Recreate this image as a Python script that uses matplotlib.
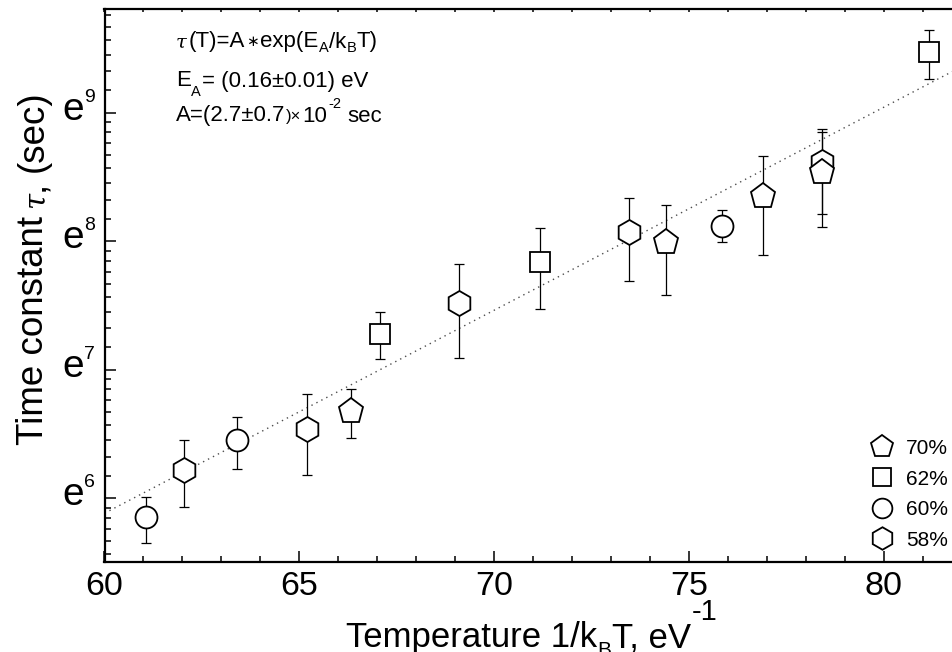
import numpy as np
import matplotlib
matplotlib.use('Agg')
import matplotlib.pyplot as plt
from matplotlib.ticker import FixedLocator, MultipleLocator, NullFormatter
from matplotlib.transforms import IdentityTransform, offset_copy

plt.rcParams['font.family'] = ['Liberation Sans', 'DejaVu Sans']

#data, y values are ln(tau)
#70% - pentagons
x70 = [66.32, 74.40, 76.91, 78.42]
ln70 = [6.68, 7.99, 8.35, 8.54]
lo70 = [6.47, 7.58, 7.89, 8.21]
hi70 = [6.85, 8.28, 8.66, 8.85]
#62% - squares
x62 = [67.08, 71.18, 81.16]
ln62 = [7.28, 7.84, 9.47]
lo62 = [7.08, 7.47, 9.26]
hi62 = [7.45, 8.10, 9.64]
#60% - circles
x60 = [61.06, 63.40, 75.85]
ln60 = [5.85, 6.45, 8.12]
lo60 = [5.65, 6.23, 7.99]
hi60 = [6.01, 6.63, 8.24]
#58% - hexagons
x58 = [62.05, 65.19, 69.10, 73.46, 78.42]
ln58 = [6.22, 6.54, 7.52, 8.07, 8.62]
lo58 = [5.93, 6.18, 7.09, 7.69, 8.11]
hi58 = [6.45, 6.81, 7.82, 8.34, 8.87]

#fit tau = A*exp(E_A*x)
fitEA = 0.158
fitLnA = -3.597

W, H = 952, 652
fig = plt.figure(figsize=(W/100, H/100), dpi=100)
axLeft, axBottom, axTop = 104.5, 561.7, 9.0
pxPerUnit = 38.97
ax = fig.add_axes([axLeft/W, (H-axBottom)/H, 22*pxPerUnit/W, (axBottom-axTop)/H])
ax.set_yscale('log', base=np.e)
ax.set_xlim(60, 82)
ax.set_ylim(np.exp(5.506), np.exp(9.807))

#the fit line
xx = np.array([60, 82])
ax.plot(xx, np.exp(fitLnA + fitEA*xx), color='0.3', lw=1.0, dashes=(1, 3), zorder=1)

groups = [
	(x58, ln58, lo58, hi58, 'h', 18.0, '58%'),
	(x60, ln60, lo60, hi60, 'o', 15.8, '60%'),
	(x62, ln62, lo62, hi62, 's', 13.9, '62%'),
	(x70, ln70, lo70, hi70, 'p', 18.7, '70%'),
]
handles = {}
for i, (gx, gy, glo, ghi, m, ms, lab) in enumerate(groups):
	y = np.exp(np.array(gy))
	ylo = np.exp(np.array(glo))
	yhi = np.exp(np.array(ghi))
	ax.errorbar(gx, y, yerr=[y-ylo, yhi-y], fmt='none', ecolor='k', elinewidth=0.9,
		capsize=3.6, capthick=0.9, zorder=2+i*0.1)
	h, = ax.plot(gx, y, ls='none', marker=m, ms=ms, mfc='white', mec='k', mew=1.3,
		zorder=3+i*0.1, label=lab)
	handles[lab] = h

#axes look
for side in ['left', 'bottom', 'top']:
	ax.spines[side].set_linewidth(1.6)
ax.spines['right'].set_visible(False)

ax.xaxis.set_major_locator(MultipleLocator(5))
ax.xaxis.set_minor_locator(MultipleLocator(1))
ax.tick_params(axis='x', which='major', direction='in', length=8, width=1.1, labelsize=24.5, pad=7, top=True)
ax.tick_params(axis='x', which='minor', direction='in', length=4, width=1.1, top=True)

majors = [6, 7, 8, 9]
minors = [np.exp(n)*(1 + k*(np.e-1)/9) for n in range(5, 10) for k in range(1, 9)]
ax.yaxis.set_major_locator(FixedLocator(np.exp(majors)))
ax.yaxis.set_minor_locator(FixedLocator(minors))
ax.yaxis.set_major_formatter(NullFormatter())
ax.yaxis.set_minor_formatter(NullFormatter())
ax.tick_params(axis='y', which='major', direction='in', length=8, width=1.1, right=False)
ax.tick_params(axis='y', which='minor', direction='in', length=4, width=1.1, right=False)

#top ticks are only tiny marks
for t in ax.xaxis.get_major_ticks() + ax.xaxis.get_minor_ticks():
	t.tick2line.set_markersize(2)

#e^n labels
ytrans = ax.get_yaxis_transform()
for n in majors:
	ax.text(0, np.exp(n), 'e', transform=offset_copy(ytrans, fig=fig, x=-20, y=-7, units='dots'),
		ha='right', va='baseline', fontsize=28)
	ax.text(0, np.exp(n), str(n), transform=offset_copy(ytrans, fig=fig, x=-20.5, y=11, units='dots'),
		ha='left', va='baseline', fontsize=14)

#text made of pieces (sub/superscripts with own sizes)
renderer = fig.canvas.get_renderer()
def rich(x, y, pieces, rotation=0):
	#x, y in pixels from top-left, pieces: (text, size, up, gap, extra)
	pos = 0.0
	for s, size, up, gap, kw in pieces:
		pos += gap
		if rotation == 0:
			t = fig.text(x + pos, H - y + up, s, transform=IdentityTransform(), fontsize=size,
				ha='left', va='baseline', **kw)
			pos += t.get_window_extent(renderer).width
		else:
			t = fig.text(x - up, H - y + pos, s, transform=IdentityTransform(), fontsize=size,
				ha='left', va='baseline', rotation=90, rotation_mode='anchor', **kw)
			pos += t.get_window_extent(renderer).height

tau = dict(family='DejaVu Serif', style='italic')
S = 16
s2 = 10.5
rich(176, 47.5, [('τ', 14, 0, 0, tau), ('(T)=A', S, 0, 2, {}), ('∗', 11, 2, 1, dict(family='DejaVu Sans')),
	('exp(E', S, 0, 1, {}), ('A', s2, -5, 0.5, {}), ('/k', S, 0, 0.5, {}), ('B', s2, -5, 0.5, {}),
	('T)', S, 0, 0.5, {})])
rich(176, 86.5, [('E', S, 0, 0, {}), ('A', s2, -10, 0.5, {}), ('= (0.16±0.01) eV', S, 0, 0.5, {})])
rich(176, 121.5, [('A=(2.7±0.7', S, 0, 0, {}), (')×', 12, 0, 1, {}), ('10', S, 0, 1, {}),
	('-2', s2, 13, 1, {}), ('sec', S, 0, 6, {})])

#axis titles
rich(346, 647.5, [('Temperature 1/k', 25, 0, 0, {}), ('B', 15, -9, 0.5, {}), ('T, eV', 25, 0, 0.5, {}),
	('-1', 21, 27, 1, {})])
rich(43, 445, [('Time constant', 26.5, 0, 0, {}), ('τ', 21, 0, 8, tau), (',', 26.5, 0, 1, {}),
	('(sec)', 26.5, 0, 9, {})], rotation=90)

order = ['70%', '62%', '60%', '58%']
ax.legend([handles[k] for k in order], order, loc='lower right', bbox_to_anchor=(0.984, 0.022),
	frameon=False, fontsize=15, handlelength=1.4, handletextpad=0.45, labelspacing=0.55,
	borderpad=0, borderaxespad=0, markerscale=0.9)

fig.savefig('out.png', dpi=100)
